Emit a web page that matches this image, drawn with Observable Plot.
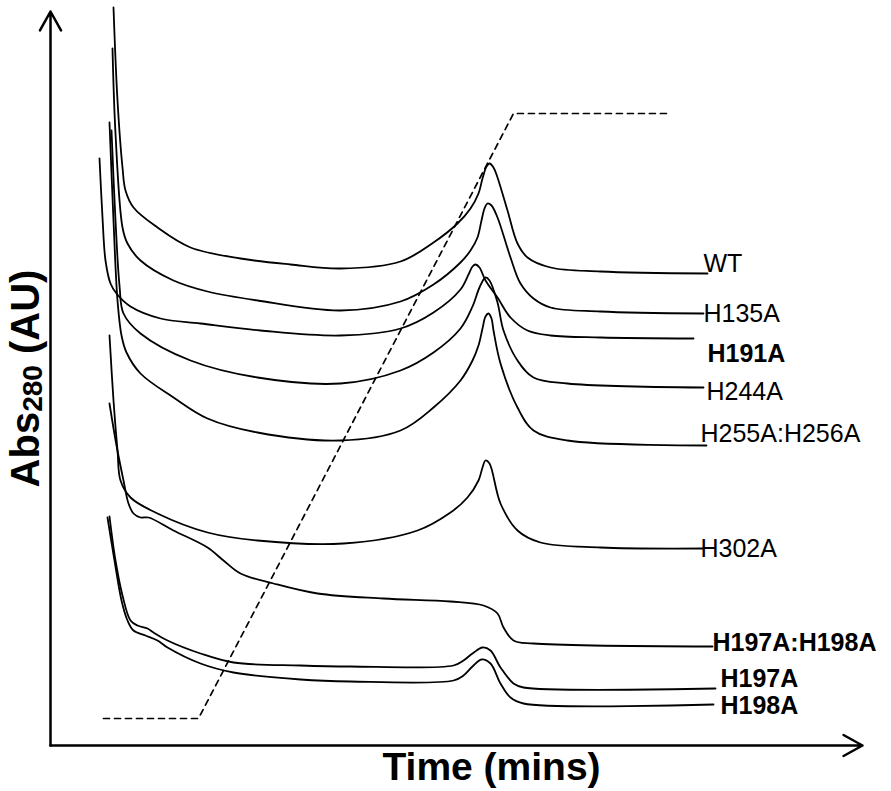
<!DOCTYPE html>
<html><head><meta charset="utf-8">
<script src="https://cdn.jsdelivr.net/npm/d3@7"></script>
<script src="https://cdn.jsdelivr.net/npm/@observablehq/plot@0.6"></script>
<style>body{margin:0;background:#fff}</style>
</head><body><div id="chart"></div>
<script>
// Trace names (top to bottom)
const traceNames = ["WT","H135A","H191A","H244A","H255A:H256A","H302A","H197A:H198A","H197A","H198A"];
// Each trace: [time (arb.), Abs280 (arb.)]
const WT = [[6.3,73.8],[6.7,64.5],[7.2,57.8],[7.5,55.5],[8.3,53.8],[10.7,51.8],[14.0,49.8],[19.0,48.7],[24.0,48.1],[29.0,47.7],[35.0,48.4],[38.3,50.3],[40.7,52.2],[42.0,53.7],[42.8,55.2],[43.2,56.7],[43.6,57.9],[43.9,58.2],[44.3,57.8],[44.7,56.8],[45.7,53.5],[46.7,50.2],[47.7,48.8],[50.0,47.8],[55.0,47.4],[65.7,47.2]];
const H135A = [[6.2,69.7],[6.5,61.2],[7.2,51.8],[7.7,50.2],[9.0,48.5],[12.3,46.5],[15.7,45.4],[20.7,44.5],[29.0,43.5],[35.0,44.4],[38.3,46.1],[41.0,48.3],[42.0,49.5],[42.7,50.8],[43.1,52.5],[43.4,53.7],[43.7,54.2],[44.1,54.0],[44.7,52.8],[46.0,48.8],[47.0,46.2],[48.3,44.7],[50.0,43.8],[55.0,43.4],[65.3,43.2]];
const H191A = [[4.9,58.7],[5.2,52.8],[5.5,48.5],[6.0,46.2],[6.6,45.2],[8.0,43.9],[11.0,42.7],[15.0,42.2],[21.0,41.5],[29.0,41.0],[35.0,41.7],[38.3,43.3],[41.0,45.6],[41.8,47.1],[42.2,47.9],[42.5,48.1],[42.9,47.8],[43.5,46.5],[44.7,44.8],[46.0,42.8],[47.7,41.5],[50.0,41.0],[55.0,40.8],[64.3,40.7]];
const H244A = [[6.1,61.5],[6.5,52.5],[6.9,46.0],[7.3,43.2],[9.0,41.2],[14.0,38.5],[20.7,36.8],[29.0,36.2],[35.0,37.5],[38.3,39.3],[41.0,41.7],[42.2,43.9],[42.9,45.8],[43.5,46.8],[43.9,46.5],[44.7,44.3],[45.3,41.5],[46.7,38.5],[48.3,36.8],[51.7,36.2],[65.3,35.8]];
const H255A_H256A = [[5.9,62.3],[6.3,52.5],[6.7,44.5],[7.1,41.0],[7.6,39.3],[9.0,37.2],[12.3,34.8],[15.7,32.7],[20.7,31.3],[29.0,30.5],[35.0,31.5],[38.3,33.8],[41.0,36.5],[42.2,38.5],[42.8,40.0],[43.2,41.7],[43.5,42.9],[43.8,43.2],[44.1,42.7],[44.3,41.5],[45.0,38.2],[46.7,33.8],[48.3,31.5],[51.7,30.5],[65.6,30.0]];
const H302A = [[5.9,41.0],[6.3,34.5],[6.7,29.5],[7.0,26.5],[8.0,24.8],[10.7,23.2],[15.7,21.3],[20.7,20.5],[29.3,20.2],[36.7,21.5],[40.0,23.3],[41.7,24.8],[42.8,26.5],[43.2,27.8],[43.5,28.5],[43.9,28.2],[45.0,24.2],[46.7,21.5],[49.0,20.3],[55.0,19.8],[65.3,19.7]];
const H197A_H198A = [[5.9,34.2],[6.6,30.0],[7.3,26.5],[7.8,24.2],[8.3,23.2],[9.0,22.8],[9.8,22.8],[12.3,21.5],[15.7,19.8],[17.3,18.5],[19.0,17.2],[22.3,16.2],[26.7,15.2],[33.3,14.7],[40.0,14.4],[43.3,14.0],[44.7,13.2],[45.3,11.8],[46.3,10.5],[48.3,10.2],[66.2,9.9]];
const H197A = [[5.9,22.9],[6.5,18.5],[7.2,15.0],[8.0,12.5],[8.7,12.0],[9.7,11.7],[10.3,11.3],[11.7,10.5],[15.0,9.2],[18.3,8.3],[25.0,8.0],[30.0,7.9],[40.3,8.0],[41.3,8.5],[42.2,9.2],[43.2,9.8],[44.0,9.5],[45.0,7.8],[46.3,6.2],[47.3,5.8],[66.5,5.7]];
const H198A = [[5.7,22.8],[6.4,18.5],[7.1,14.5],[7.7,12.5],[8.3,11.5],[9.5,11.0],[10.7,10.5],[11.7,9.8],[15.0,8.2],[18.3,7.3],[25.0,6.6],[30.0,6.4],[40.3,6.5],[41.3,7.0],[42.2,7.9],[43.1,8.6],[44.0,8.2],[45.0,6.2],[46.0,4.8],[47.3,4.2],[66.3,4.1]];
// Gradient (dashed)
const gradientTime = [5.3, 14.8, 46.3, 61.7];
const gradientLevel = [2.7, 2.7, 63.2, 63.2];
// Labels
const labelTime = [65.3, 65.3, 65.7, 65.6, 65.0, 65.0, 66.2, 67.0, 67.0];
const labelAbs  = [48.2, 43.2, 39.2, 35.4, 31.2, 19.7, 10.3, 6.7, 4.0];
const labelBold = [false, false, true, false, false, false, true, true, true];
// Axes extents
const axisX = [{x1: 0, y1: 0, x2: 81.2, y2: 0}];
const axisY = [{x1: 0, y1: 0, x2: 0, y2: 73.4}];
const xTitle = [{text: "Time (mins)", t: 44.1, a: -2.2}];
const yTitle = [{text: "Abs280 (AU)", t: -2.4, a: 36.7}];

const traceData = [WT, H135A, H191A, H244A, H255A_H256A, H302A, H197A_H198A, H197A, H198A];
const rows = traceNames.flatMap((name, i) => traceData[i].map(([t, a]) => ({name, t, a})));
const gradRows = gradientTime.map((t, i) => ({t, a: gradientLevel[i]}));
const labels = traceNames.map((name, i) => ({name, t: labelTime[i], a: labelAbs[i], bold: labelBold[i]}));

const font = "'Liberation Sans', Arial, Helvetica, sans-serif";
const chart = Plot.plot({
  width: 891, height: 791, margin: 0,
  style: {fontFamily: font, background: "#fff", color: "#000"},
  x: {domain: [-5, 84.1], range: [0, 891], axis: null},
  y: {domain: [-4.6, 74.5], range: [791, 0], axis: null},
  marks: [
    Plot.line(gradRows, {x: "t", y: "a", stroke: "#000", strokeWidth: 1.7, strokeDasharray: "6,5"}),
    Plot.line(rows, {x: "t", y: "a", z: "name", curve: "catmull-rom", stroke: "#000", strokeWidth: 1.8}),
    Plot.arrow(axisX, {x1: "x1", y1: "y1", x2: "x2", y2: "y2", stroke: "#000", strokeWidth: 2.5, headLength: 13, headAngle: 58}),
    Plot.arrow(axisY, {x1: "x1", y1: "y1", x2: "x2", y2: "y2", stroke: "#000", strokeWidth: 2.5, headLength: 13, headAngle: 58}),
    Plot.text(labels.filter(d => !d.bold), {x: "t", y: "a", text: "name", textAnchor: "start", lineAnchor: "middle", fontSize: 25, fill: "#000"}),
    Plot.text(labels.filter(d => d.bold), {x: "t", y: "a", text: "name", textAnchor: "start", lineAnchor: "middle", fontSize: 25, fontWeight: "bold", fill: "#000"}),
    Plot.text(xTitle, {x: "t", y: "a", text: "text", textAnchor: "middle", lineAnchor: "middle", fontSize: 39, fontWeight: "bold", fill: "#000"}),
    Plot.text(yTitle, {x: "t", y: "a", text: "text", textAnchor: "middle", lineAnchor: "middle", rotate: -90, fontSize: 40, fontWeight: "bold", fill: "#000"})
  ]
});
document.getElementById("chart").appendChild(chart);
// subscript for Abs280
d3.select(chart).selectAll("text").each(function() {
  if (this.textContent === "Abs280 (AU)") {
    const yt = d3.select(this);
    yt.text(null);
    yt.append("tspan").text("Abs");
    yt.append("tspan").attr("font-size", 28).attr("dy", 3).text("280");
    yt.append("tspan").attr("dy", -3).text(" (AU)");
  }
});
</script>
</body></html>
